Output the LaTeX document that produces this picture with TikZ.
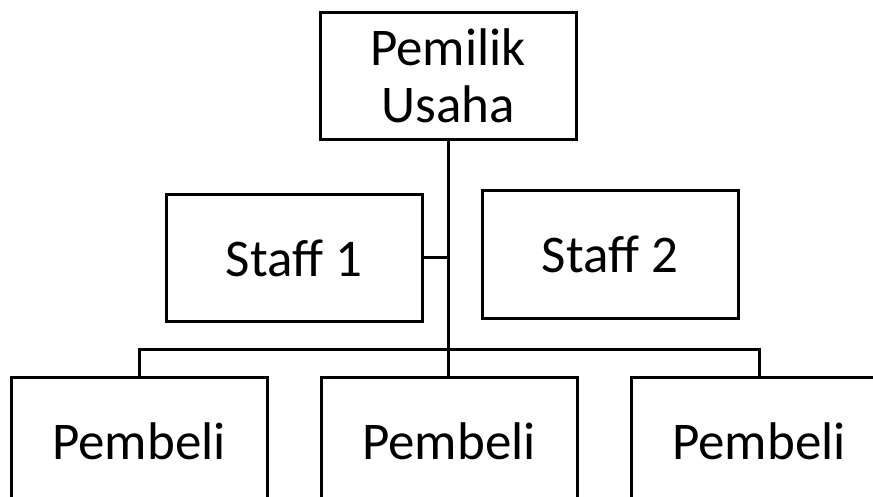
\documentclass[tikz,border=0pt]{standalone}
\usepackage{fontspec}
\setmainfont{Carlito}
\usetikzlibrary{positioning}

\tikzset{
    orgbox/.style={draw, line width=3pt, fill=white, minimum width=256pt, minimum height=127pt,
        align=center, inner sep=0pt, outer sep=0pt, font=\fontsize{53}{57}\selectfont},
    orgline/.style={line width=3pt}
}

\begin{document}
\begin{tikzpicture}[x=1pt, y=-1pt]
    \useasboundingbox (0,0) rectangle (873,497);
    \clip (0,0) rectangle (873,497);

    \node[orgbox] (owner) at (448, 76) {Pemilik\\Usaha};
    \node[orgbox] (staffa) at (294, 258) {Staff 1};
    \node[orgbox] (staffb) at (610, 254.5) {Staff 2};

    \node[orgbox] (buyera) at (139, 441) {Pembeli};
    \node[orgbox] (buyerb) at (449, 441) {Pembeli};
    \node[orgbox] (buyerc) at (759, 441) {Pembeli};

    \coordinate (bar) at (448, 349);

    \draw[orgline] (owner.south) -- (owner.south |- buyerb.north);
    \draw[orgline] (staffa.east) -- (staffa.east -| owner.south);
    \draw[orgline] (buyera.north) |- (bar) -| (buyerc.north);
\end{tikzpicture}
\end{document}
